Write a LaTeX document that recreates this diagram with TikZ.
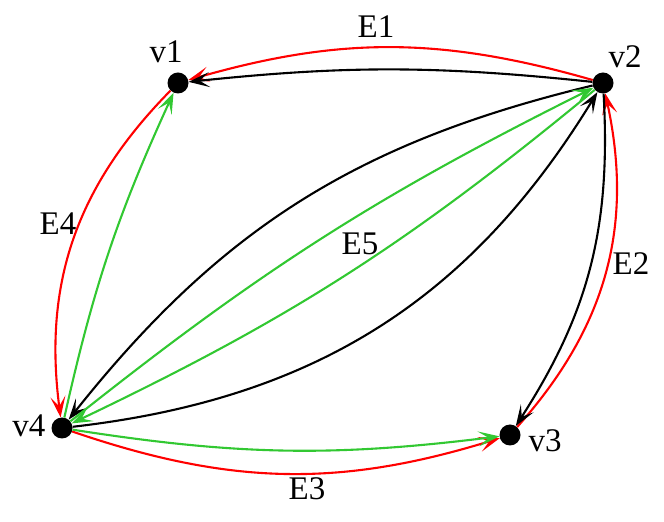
\documentclass[tikz,border=0pt]{standalone}
\usepackage{fontspec}
\setmainfont{Liberation Serif}
\usetikzlibrary{arrows.meta}
\definecolor{egreen}{RGB}{50,200,50}
\begin{document}
\begin{tikzpicture}[x=1pt,y=1pt,
  vert/.style={circle,fill=black,inner sep=0pt,minimum size=21pt},
  lbl/.style={anchor=base,font=\fontsize{33}{38}\selectfont,inner sep=0pt},
  edge/.style={line width=2.1pt,-{Stealth[length=21pt,width=15pt,inset=10pt]}},
  redge/.style={edge,red},
  gedge/.style={edge,egreen},
  bedge/.style={edge,black}]
\useasboundingbox (0,0) rectangle (664,522);
\node[vert] (v1) at (178,439) {};
\node[vert] (v2) at (603,439) {};
\node[vert] (v3) at (510,87) {};
\node[vert] (v4) at (62,94) {};
\node[lbl] (l1) at (166,459) {v1};
\node[lbl] (l2) at (625,454) {v2};
\node[lbl] (l3) at (545,70) {v3};
\node[lbl] (l4) at (29,85) {v4};
\node[lbl] (e1) at (376,484) {E1};
\node[lbl] (e2) at (631,247) {E2};
\node[lbl] (e3) at (307,22) {E3};
\node[lbl] (e4) at (58,287) {E4};
\node[lbl] (e5) at (360,267) {E5};
\draw[redge] (v2) to[bend right=16] (v1);
\draw[bedge] (v2) to[bend right=6] (v1);
\draw[redge] (v3) to[bend right=27] (v2);
\draw[bedge] (v2) to[bend left=18] (v3);
\draw[redge] (v4) to[bend right=18] (v3);
\draw[gedge] (v4) to[bend right=8] (v3);
\draw[redge] (v1) to[bend right=26] (v4);
\draw[gedge] (v4) to[bend left=6] (v1);
\draw[bedge] (v2) to[bend right=19] (v4);
\draw[gedge] (v4) to[bend left=6] (v2);
\draw[gedge] (v2) to[bend left=7] (v4);
\draw[bedge] (v4) to[bend right=26] (v2);
\end{tikzpicture}
\end{document}
